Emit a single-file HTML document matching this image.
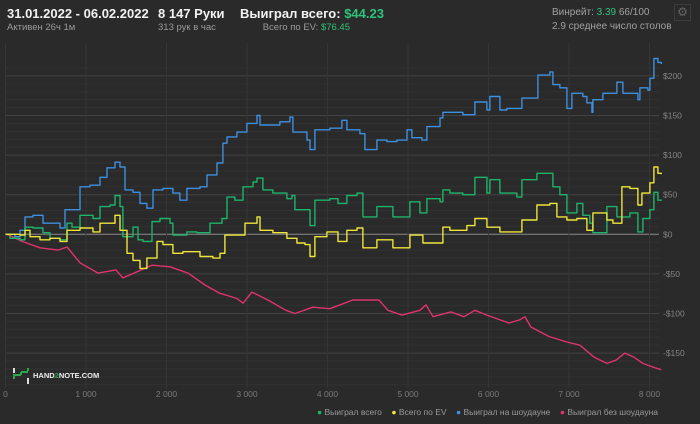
<!DOCTYPE html>
<html><head><meta charset="utf-8">
<style>
body{margin:0;background:#2a2a2a;font-family:"Liberation Sans","Noto Sans CJK SC",sans-serif;}
#wrap{position:relative;width:700px;height:424px;overflow:hidden;background:#2a2a2a;}
.t{position:absolute;white-space:nowrap;}
</style></head><body>
<div id="wrap">
<div class="t" style="left:7px;top:6px;font-size:13px;font-weight:bold;color:#f2f2f2">31.01.2022 - 06.02.2022</div>
<div class="t" style="left:7px;top:22px;font-size:9.5px;color:#9a9a9a">Активен 26ч 1м</div>
<div class="t" style="left:158px;top:6px;font-size:13px;font-weight:bold;color:#f2f2f2">8 147 Руки</div>
<div class="t" style="left:158px;top:22px;font-size:9.5px;color:#9a9a9a">313 рук в час</div>
<div class="t" style="left:240px;top:6px;font-size:13px;font-weight:bold;color:#f2f2f2">Выиграл всего: <span style="color:#2ec27a">$44.23</span></div>
<div class="t" style="right:350px;top:22px;font-size:9.5px;color:#9a9a9a">Всего по EV: <span style="color:#2ec27a">$76.45</span></div>
<div class="t" style="left:552px;top:7px;font-size:10px;color:#a0a0a0">Винрейт: <span style="color:#2ec27a">3.39</span> 66/100</div>
<div class="t" style="left:552px;top:21px;font-size:10px;color:#a0a0a0">2.9 среднее число столов</div>
<div class="t" style="left:674px;top:4px;width:17px;height:17px;border:1px solid #3c3c3c;box-sizing:border-box;color:#666;font-size:12px;line-height:15px;text-align:center">⚙</div>
<svg id="chart" width="700" height="424" style="position:absolute;left:0;top:0"></svg>
<div class="t" style="left:12px;top:367px;width:20px;height:18px">
<svg width="20" height="18"><line x1="2" y1="1" x2="2" y2="6" stroke="#ddd" stroke-width="2"/><line x1="2" y1="7" x2="2" y2="12" stroke="#2aa84a" stroke-width="2"/><line x1="2" y1="8" x2="9" y2="8" stroke="#2aa84a" stroke-width="2"/><line x1="9" y1="8" x2="9" y2="5" stroke="#2aa84a" stroke-width="2"/><line x1="9" y1="5" x2="16" y2="5" stroke="#2aa84a" stroke-width="2"/><line x1="16" y1="1" x2="16" y2="4" stroke="#2aa84a" stroke-width="2"/><line x1="16" y1="11" x2="16" y2="17" stroke="#ddd" stroke-width="2"/></svg></div>
<div class="t" style="left:33px;top:371px;font-size:7.5px;font-weight:bold;color:#eee">HAND<span style="color:#2aa84a">2</span>NOTE.COM</div>
<div class="t" style="right:42px;top:407px;font-size:8.5px;color:#9a9a9a">
<span><span style="color:#1db36b">●</span> Выиграл всего</span>&nbsp;&nbsp;&nbsp;
<span><span style="color:#eee63a">●</span> Всего по EV</span>&nbsp;&nbsp;&nbsp;
<span><span style="color:#3d8fe0">●</span> Выиграл на шоудауне</span>&nbsp;&nbsp;&nbsp;
<span><span style="color:#e0336e">●</span> Выиграл без шоудауна</span>
</div>
</div>
<script>
const xTicks=[0,1000,2000,3000,4000,5000,6000,7000,8000];
const xTickLabels=["0","1 000","2 000","3 000","4 000","5 000","6 000","7 000","8 000"];
const yTicks=[200,150,100,50,0,-50,-100,-150];
const yTickLabels=["$200","$150","$100","$50","$0","-$50","-$100","-$150"];
const blueHands=[0,118,180,242,342,466,677,739,925,1049,1174,1261,1360,1422,1484,1584,1671,1757,1832,1956,2080,2167,2254,2416,2503,2627,2701,2751,2875,2999,3124,3161,3322,3409,3533,3570,3745,3782,3844,4030,4179,4241,4403,4465,4614,4738,4862,4987,5049,5173,5235,5397,5434,5521,5682,5831,5980,6018,6142,6229,6415,6601,6614,6763,6800,6887,6974,7036,7172,7222,7284,7297,7421,7545,7595,7670,7856,7881,7980,8005,8055,8104,8147];
const blueVals=[0,-3,5,22,24,14,8,31,60,62,72,84,91,85,56,53,39,33,56,58,52,43,58,60,75,90,115,123,129,140,150,138,138,142,148,129,119,107,132,134,144,132,127,107,119,117,119,132,122,119,136,147,154,154,151,167,157,174,157,159,172,172,201,205,189,185,159,178,174,166,154,170,178,178,192,178,170,185,182,197,222,217,215];
const greenHands=[0,56,180,242,342,466,553,677,764,826,925,1087,1174,1298,1360,1422,1459,1584,1646,1708,1820,1919,2043,2080,2254,2378,2453,2540,2689,2751,2850,2950,3074,3124,3198,3322,3496,3558,3595,3745,3782,3844,4030,4130,4241,4366,4440,4614,4813,5024,5148,5235,5397,5434,5521,5682,5831,5980,6018,6142,6353,6415,6601,6763,6800,6887,6974,7098,7172,7259,7297,7471,7595,7756,7856,7918,8005,8055,8104,8147];
const greenVals=[0,-5,-7,9,8,2,-5,-7,14,9,24,20,35,37,49,35,-3,9,-7,-9,16,20,14,-1,3,2,2,14,20,47,43,60,66,71,56,52,45,49,31,31,11,43,45,39,49,52,22,35,22,41,27,45,41,56,52,50,72,52,69,52,47,69,77,77,60,50,27,39,24,14,2,35,22,27,3,20,31,53,43,44];
const yellowHands=[0,180,242,304,428,553,677,764,925,1087,1174,1298,1360,1422,1509,1584,1671,1757,1882,1956,2080,2204,2416,2577,2664,2726,2888,2975,3124,3161,3322,3496,3620,3720,3782,3844,3993,4130,4241,4366,4440,4614,4813,5024,5185,5359,5434,5521,5732,5831,5980,6142,6415,6601,6763,6850,6974,7098,7222,7297,7471,7545,7657,7756,7856,7906,8005,8055,8104,8147];
const yellowVals=[0,-1,5,-3,-7,-5,-9,5,8,3,14,14,24,5,-24,-33,-43,-30,-9,-13,-24,-22,-28,-30,-24,-1,-1,14,22,5,2,-5,-11,-13,-28,-3,3,-9,5,8,-17,-7,-17,-1,-11,-11,9,5,11,20,9,3,18,37,39,22,18,20,5,27,18,14,60,58,37,52,65,85,77,76];
const pinkHands=[0,43,205,428,652,764,925,1149,1372,1459,1596,1820,2043,2267,2478,2652,2875,2950,3062,3260,3484,3595,3819,4030,4316,4639,4751,4925,5148,5223,5310,5533,5695,5831,5980,6253,6390,6452,6527,6751,6974,7136,7310,7471,7583,7695,7806,7918,8080,8147];
const pinkVals=[0,-1,-9,-17,-20,-16,-36,-49,-45,-55,-49,-39,-41,-49,-64,-74,-81,-87,-73,-83,-96,-100,-92,-94,-83,-83,-96,-102,-96,-89,-104,-98,-104,-96,-102,-112,-108,-104,-117,-129,-136,-140,-155,-163,-159,-150,-155,-163,-169,-171];

const NS="http://www.w3.org/2000/svg";
const svg=document.getElementById('chart');
const X0=5.5,XS=0.0805,Y0=234.3,YS=0.792;
function sx(h){return X0+h*XS;}
function sy(v){return Y0-v*YS;}
const PLOT_R=659,PLOT_T=43,PLOT_B=388;
function mk(tag,attrs){const e=document.createElementNS(NS,tag);for(const k in attrs)e.setAttribute(k,attrs[k]);svg.appendChild(e);return e;}
for(let v=210;v>=-190;v-=10){
  const y=sy(v);
  const major=(v%50===0);
  const l=mk('line',{x1:X0,x2:PLOT_R,y1:y,y2:y,stroke:v===0?'#8a8a8a':(major?'#424242':'#313131'),'stroke-width':1});
  
  
}
xTicks.forEach((t,i)=>{
  const x=sx(t);
  const l=mk('line',{x1:x,x2:x,y1:PLOT_T,y2:PLOT_B,stroke:'#353535','stroke-width':1});
  
  
  const tx=mk('text',{x:x,y:397,fill:'#7a7a7a','font-size':'8.5','text-anchor':'middle','font-family':'Liberation Sans, sans-serif'});
  tx.textContent=xTickLabels[i];
  
  
});
yTicks.forEach((t,i)=>{
  const tx=mk('text',{x:663,y:sy(t)+3,fill:'#858585','font-size':'8.5','font-family':'Liberation Sans, sans-serif'});
  tx.textContent=yTickLabels[i];
  
  
});
function series(hands,vals,color,name,step){
  let d='M'+sx(hands[0]).toFixed(1)+' '+sy(vals[0]).toFixed(1);
  for(let i=1;i<hands.length;i++){
    const x=sx(hands[i]).toFixed(1);
    if(step) d+='H'+x+'V'+sy(vals[i]).toFixed(1);
    else d+='L'+x+' '+sy(vals[i]).toFixed(1);
  }
  const p=mk('path',{d:d,fill:'none',stroke:color,'stroke-width':1.4,'stroke-linejoin':'round'});
  
  
}
series(pinkHands,pinkVals,'#e0336e','line-non-showdown',false);
series(blueHands,blueVals,'#3d8fe0','line-showdown',true);
series(greenHands,greenVals,'#1db36b','line-total',true);
series(yellowHands,yellowVals,'#eee63a','line-ev',true);
</script>
</body></html>
